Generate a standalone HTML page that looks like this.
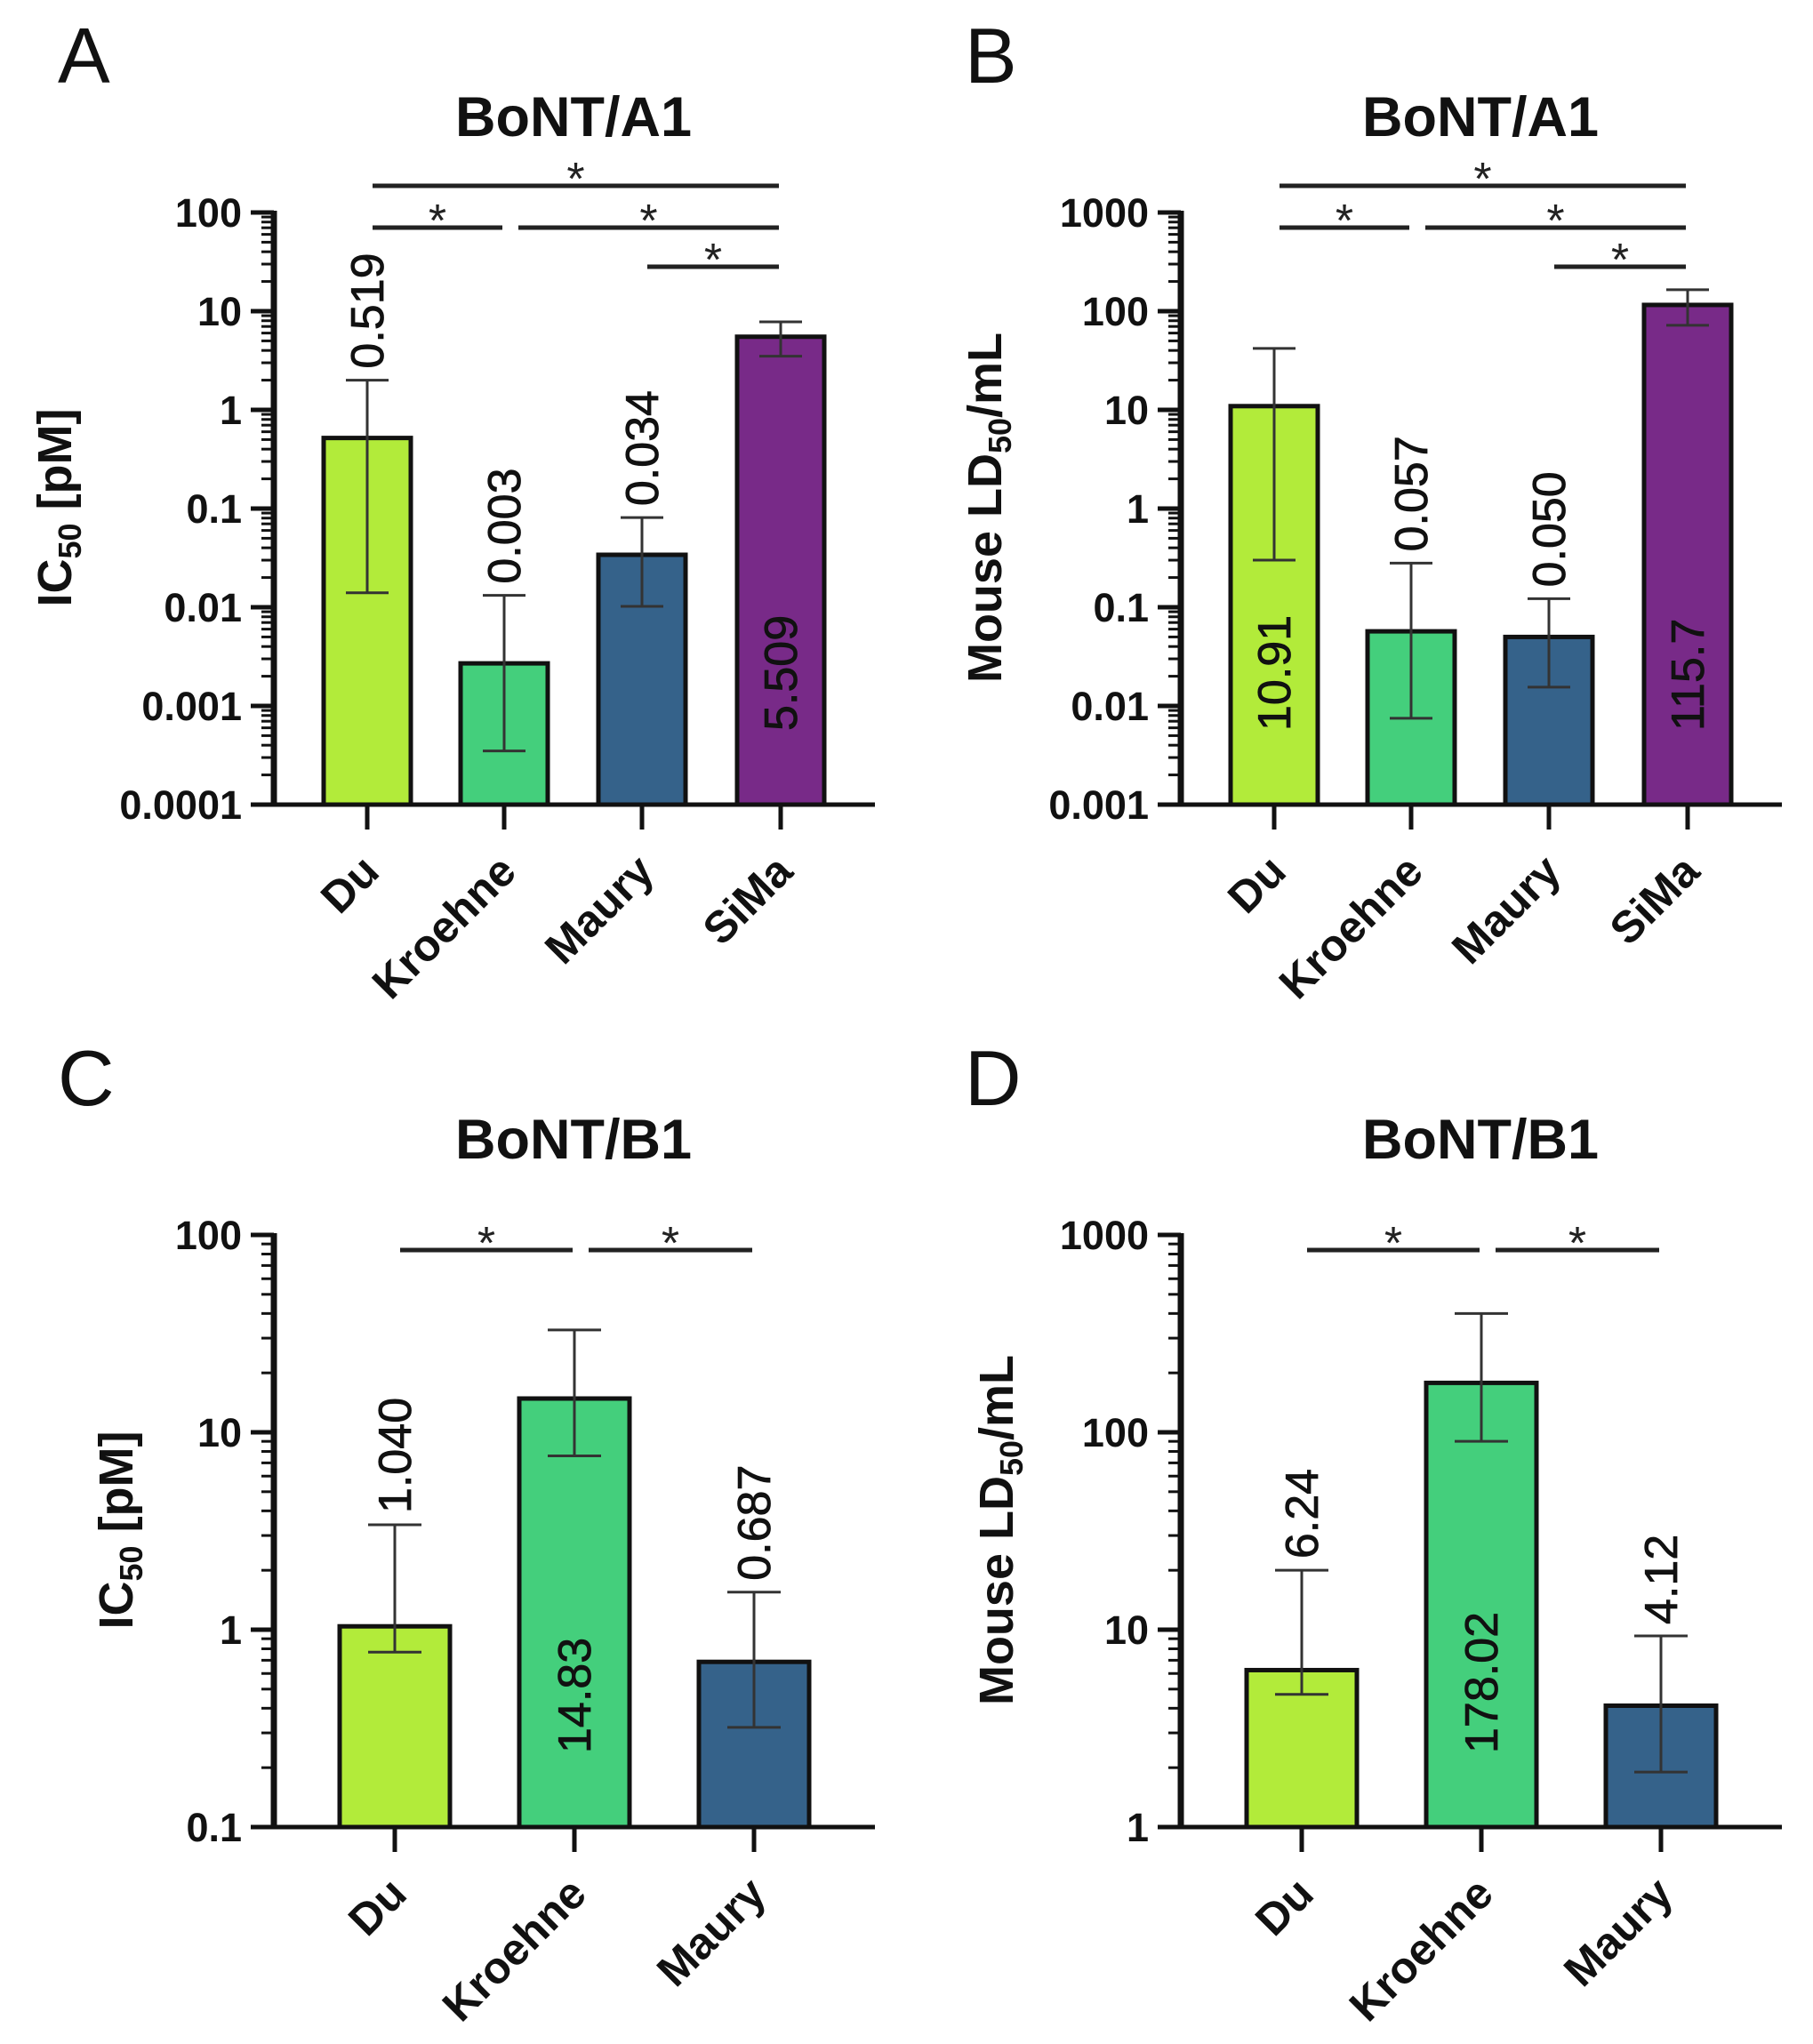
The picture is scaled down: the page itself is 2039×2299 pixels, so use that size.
<!DOCTYPE html>
<html><head><meta charset="utf-8">
<style>
html,body{margin:0;padding:0;background:#fff;}
svg{display:block;font-family:"Liberation Sans",Arial,sans-serif;}
</style></head>
<body>
<svg id="fig" width="2039" height="2299" viewBox="0 0 2039 2299" xmlns="http://www.w3.org/2000/svg"></svg>
<script>
// ---- Panel A data ----
const catsA = ["Du","Kroehne","Maury","SiMa"];
const valsA = [0.519,0.0027,0.034,5.509];
const errLoA = [0.014,0.00035,0.0102,3.5];
const errHiA = [2.0,0.0132,0.081,7.8];
const labelsA = ["0.519","0.003","0.034","5.509"];
const insideA = [false,false,false,true];
const ticksA = ["0.0001","0.001","0.01","0.1","1","10","100"];
const sigA = [[0,3,0],[0,1,1],[1,3,1],[2,3,2]];
// ---- Panel B data ----
const catsB = ["Du","Kroehne","Maury","SiMa"];
const valsB = [10.91,0.057,0.050,115.7];
const errLoB = [0.3,0.0075,0.0155,72];
const errHiB = [42,0.28,0.122,165];
const labelsB = ["10.91","0.057","0.050","115.7"];
const insideB = [true,false,false,true];
const ticksB = ["0.001","0.01","0.1","1","10","100","1000"];
const sigB = [[0,3,0],[0,1,1],[1,3,1],[2,3,2]];
// ---- Panel C data ----
const catsC = ["Du","Kroehne","Maury"];
const valsC = [1.04,14.83,0.687];
const errLoC = [0.77,7.6,0.32];
const errHiC = [3.4,33,1.55];
const labelsC = ["1.040","14.83","0.687"];
const insideC = [false,true,false];
const ticksC = ["0.1","1","10","100"];
const sigC = [[0,1,1],[1,2,1]];
// ---- Panel D data ----
const catsD = ["Du","Kroehne","Maury"];
const valsD = [6.24,178.02,4.12];
const errLoD = [4.7,90,1.9];
const errHiD = [20,400,9.3];
const labelsD = ["6.24","178.02","4.12"];
const insideD = [false,true,false];
const ticksD = ["1","10","100","1000"];
const sigD = [[0,1,1],[1,2,1]];

const colors = ["#b2eb3a","#44cf7c","#35628a","#782a88"];
const NS = "http://www.w3.org/2000/svg";
const fig = document.getElementById("fig");

function mk(parent, tag, attrs, text){
  const e = document.createElementNS(NS, tag);
  for (const k in attrs) e.setAttribute(k, attrs[k]);
  if (text !== undefined) e.textContent = text;
  parent.appendChild(e);
  return e;
}

function panel(cfg){
  const g = mk(fig, "g", {transform:`translate(${cfg.ox},${cfg.oy})`});
  
  
  const axX = 308, yTop = 239, yBot = 905, xEnd = 984;
  const n = cfg.cats.length;
  const minExp = Math.log10(parseFloat(cfg.ticks[0]));
  const maxExp = Math.log10(parseFloat(cfg.ticks[cfg.ticks.length-1]));
  const y = v => yBot - (Math.log10(v) - minExp) / (maxExp - minExp) * (yBot - yTop);
  const centers4 = [413,567,722,878], centers3 = [444,646,848];
  const xc = i => (n === 4 ? centers4 : centers3)[i];
  const bw = n === 4 ? 98 : 124;
  const cap = n === 4 ? 24 : 30;

  const L = mk(g, "text", {x:65, y:93, "font-size":88, fill:"#111"}, cfg.letter);
  
  
  const T = mk(g, "text", {x:645, y:153, "font-size":63, "font-weight":"bold", "text-anchor":"middle", fill:"#111"}, cfg.title);
  
  
  const YL = mk(g, "text", {transform:`translate(${cfg.ylx + 18},571) rotate(-90)`, "font-size":54, "font-weight":"bold", "text-anchor":"middle", fill:"#111"});
  
  
  mk(YL, "tspan", {}, cfg.yl[0]);
  mk(YL, "tspan", {"font-size":36, dy:11}, "50");
  mk(YL, "tspan", {dy:-11}, cfg.yl[1]);

  for (let i=0;i<n;i++){
    const top = y(cfg.vals[i]);
    const r = mk(g, "rect", {x:xc(i)-bw/2, y:top, width:bw, height:yBot-top, fill:colors[i], stroke:"#111", "stroke-width":5});
    
    
    const eg = mk(g, "g", {stroke:"#333", "stroke-width":3});
    
    
    const hi = y(cfg.hi[i]), lo = y(cfg.lo[i]);
    mk(eg, "line", {x1:xc(i), x2:xc(i), y1:hi, y2:lo});
    mk(eg, "line", {x1:xc(i)-cap, x2:xc(i)+cap, y1:hi, y2:hi});
    mk(eg, "line", {x1:xc(i)-cap, x2:xc(i)+cap, y1:lo, y2:lo});
    const ly = cfg.inside[i] ? 822 : hi - 13;
    const vt = mk(g, "text", {transform:`translate(${xc(i)+18},${ly}) rotate(-90)`, "font-size":52, fill:"#111", stroke:"#111", "stroke-width":0.8}, cfg.labels[i]);
    
    
    const ct = mk(g, "text", {transform:`translate(${xc(i)+16},983) rotate(-45)`, "font-size":50, "font-weight":"bold", "text-anchor":"end", fill:"#111"}, cfg.cats[i]);
    
    
    const xt = mk(g, "line", {x1:xc(i), x2:xc(i), y1:yBot, y2:933, stroke:"#111", "stroke-width":5});
    
    
  }

  const ya = mk(g, "g", {stroke:"#111"});
  
  
  for (let e = minExp; e <= maxExp; e++){
    const yy = y(Math.pow(10,e));
    mk(ya, "line", {x1:282, x2:axX, y1:yy, y2:yy, "stroke-width":5});
    if (e < maxExp){
      for (let m=2;m<=9;m++){
        const ym = y(m*Math.pow(10,e));
        mk(ya, "line", {x1:294, x2:axX, y1:ym, y2:ym, "stroke-width":3});
      }
    }
  }
  mk(ya, "line", {x1:axX, x2:axX, y1:yTop-2, y2:yBot+2, "stroke-width":7});
  cfg.ticks.forEach((t,k)=>{
    const tl = mk(g, "text", {x:272, y:y(Math.pow(10,minExp+k))+16, "font-size":45, "font-weight":"bold", "text-anchor":"end", fill:"#111"}, t);
    
    
  });
  const xa = mk(g, "line", {x1:282, x2:xEnd, y1:yBot, y2:yBot, stroke:"#111", "stroke-width":5});
  
  

  const levelsY = [209,256,300];
  cfg.sig.forEach(s=>{
    const [i,j,lv] = s;
    const shared = cfg.sig.some(o => o[2]===lv && o[1]===i);
    const x1 = xc(i) + (shared ? 16 : 6), x2 = xc(j) - 2;
    const ly = levelsY[lv];
    const sl = mk(g, "line", {x1:x1, x2:x2, y1:ly, y2:ly, stroke:"#222", "stroke-width":5});
    
    
    const st = mk(g, "text", {x:(x1+x2)/2, y:ly+10, "font-size":52, "text-anchor":"middle", fill:"#222"}, "*");
    
    
  });
}

panel({ox:0, oy:0, letter:"A", title:"BoNT/A1", yl:["IC"," [pM]"], ylx:62, cats:catsA, vals:valsA, lo:errLoA, hi:errHiA, labels:labelsA, inside:insideA, ticks:ticksA, sig:sigA});
panel({ox:1020, oy:0, letter:"B", title:"BoNT/A1", yl:["Mouse LD","/mL"], ylx:88, cats:catsB, vals:valsB, lo:errLoB, hi:errHiB, labels:labelsB, inside:insideB, ticks:ticksB, sig:sigB});
panel({ox:0, oy:1150, letter:"C", title:"BoNT/B1", yl:["IC"," [pM]"], ylx:131, cats:catsC, vals:valsC, lo:errLoC, hi:errHiC, labels:labelsC, inside:insideC, ticks:ticksC, sig:sigC});
panel({ox:1020, oy:1150, letter:"D", title:"BoNT/B1", yl:["Mouse LD","/mL"], ylx:101, cats:catsD, vals:valsD, lo:errLoD, hi:errHiD, labels:labelsD, inside:insideD, ticks:ticksD, sig:sigD});
</script>
</body></html>
